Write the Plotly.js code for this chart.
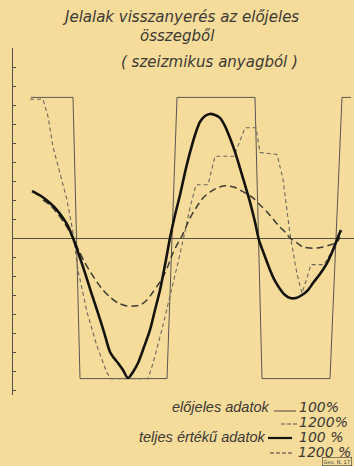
<!DOCTYPE html>
<html>
<head>
<meta charset="utf-8">
<script src="https://cdn.plot.ly/plotly-3.0.1.min.js"></script>
<style>
html,body{margin:0;padding:0;background:#f5dc9b;}
#chart{width:354px;height:466px;}
</style>
</head>
<body>
<div id="chart"></div>
<script>
// Square wave (előjeles adatok 100%)
const squareX = [18, 60, 67, 154, 164, 242, 249, 317, 329, 338];
const squareY = [7.4, 7.4, -7.4, -7.4, 7.4, 7.4, -7.4, -7.4, 7.4, 7.4];

// Stepped thin dashed (előjeles adatok 1200%)
const signX = [17, 30, 35, 40, 47, 54, 60, 65, 74, 84, 94, 98, 135, 140, 149, 157, 165, 171, 177, 183, 195, 202, 221, 232, 243, 247, 264, 270, 277, 284, 289, 294, 298, 311, 320, 327];
const signY = [7.3, 7.3, 6.4, 4.8, 3.4, 2.0, 0.3, -1.7, -3.9, -5.7, -7.1, -7.4, -7.4, -6.6, -4.8, -3.1, -1.3, 0.1, 1.6, 2.8, 2.8, 4.3, 4.3, 5.8, 5.8, 4.5, 4.4, 3.1, 0.2, -1.9, -2.9, -2.1, -1.4, -1.4, -0.6, 0.2];

// Thick solid (teljes értékű adatok 100%)
const fullX = [19, 28, 37, 44, 50, 55, 60, 66, 72, 78, 84, 91, 97, 101, 105, 110, 115, 120, 125, 131, 137, 142, 147, 152, 157, 162, 167, 173, 179, 183, 187, 192, 197, 202, 207, 212, 217, 222, 227, 232, 237, 242, 246, 251, 257, 262, 267, 272, 277, 283, 289, 295, 300, 307, 314, 320, 325, 328];
const fullY = [2.47, 2.21, 1.84, 1.47, 1.05, 0.63, 0, -0.89, -1.84, -2.84, -3.79, -4.95, -6.0, -6.32, -6.58, -6.95, -7.37, -7.05, -6.58, -5.74, -4.84, -3.79, -2.74, -1.42, 0, 1.21, 2.26, 3.68, 4.89, 5.58, 6.11, 6.42, 6.53, 6.47, 6.32, 5.89, 5.26, 4.53, 3.68, 2.79, 1.89, 0.84, -0.11, -0.84, -1.68, -2.26, -2.68, -3.0, -3.16, -3.16, -3.0, -2.74, -2.37, -1.89, -1.32, -0.63, 0.05, 0.42];

// Medium dashed (teljes értékű adatok 1200%)
const full12X = [30, 37, 44, 52, 60, 66, 72, 78, 84, 90, 97, 105, 114, 121, 127, 134, 140, 145, 150, 155, 160, 165, 169, 173, 177, 183, 190, 197, 204, 210, 215, 221, 227, 234, 240, 247, 254, 260, 266, 272, 277, 284, 290, 297, 304, 310, 317, 324, 327];
const full12Y = [2.0, 1.74, 1.32, 0.74, 0, -0.68, -1.32, -1.84, -2.32, -2.74, -3.11, -3.42, -3.58, -3.58, -3.53, -3.26, -2.84, -2.47, -2.05, -1.47, -0.79, -0.26, 0.11, 0.58, 1.05, 1.58, 2.11, 2.42, 2.63, 2.74, 2.74, 2.68, 2.53, 2.32, 2.11, 1.74, 1.37, 1.0, 0.63, 0.32, 0, -0.26, -0.47, -0.53, -0.53, -0.47, -0.37, -0.21, 0.05];

const titleLines = ["Jelalak visszanyerés az előjeles", "összegből", "( szeizmikus anyagból )"];
const legendLabels = ["előjeles adatok", "teljes értékű adatok"];
const legendPercents = ["100%", "1200%", "100 %", "1200 %"];

const paperBg = '#f5dc9b';
const ink = '#3c3833';
const fontFam = 'DejaVu Sans, sans-serif';
const narrowFam = 'Liberation Sans, Arial, sans-serif';

// plot area geometry in pixels (for paper coords of text/legend marks)
const L = 13, W = 341, T = 48, H = 347;
const px = x => (x - L) / W;
const py = y => (T + H - y) / H;

const traces = [
  {x: squareX, y: squareY, mode: 'lines', line: {color: '#5a5650', width: 1}, hoverinfo: 'skip'},
  {x: signX, y: signY, mode: 'lines', line: {color: '#6c665c', width: 1.1, dash: '4px,3px'}, hoverinfo: 'skip'},
  {x: full12X, y: full12Y, mode: 'lines', line: {color: '#3e3a34', width: 1.5, dash: '7px,4px', shape: 'spline', smoothing: 0.8}, hoverinfo: 'skip'},
  {x: fullX, y: fullY, mode: 'lines', line: {color: '#15130f', width: 2.6, shape: 'spline', smoothing: 0.8}, hoverinfo: 'skip'}
];

const textFont = (fam, size) => ({family: fam, size: size, color: ink, style: 'italic'});

const annotations = [
  {x: px(180), y: py(17), text: titleLines[0]},
  {x: px(177), y: py(36), text: titleLines[1]},
  {x: px(209), y: py(62), text: titleLines[2]},
].map(a => Object.assign(a, {xref: 'paper', yref: 'paper', showarrow: false, xanchor: 'center', yanchor: 'middle', font: textFont(fontFam, 15)}));

// legend texts
const legendItems = [
  {x: px(271), y: py(407), text: legendLabels[0], xanchor: 'right', font: textFont(narrowFam, 14.5)},
  {x: px(297), y: py(407), text: legendPercents[0], xanchor: 'left', font: textFont(fontFam, 14)},
  {x: px(297), y: py(422), text: legendPercents[1], xanchor: 'left', font: textFont(fontFam, 14)},
  {x: px(267), y: py(437), text: legendLabels[1], xanchor: 'right', font: textFont(narrowFam, 14.5)},
  {x: px(297), y: py(437), text: legendPercents[2], xanchor: 'left', font: textFont(fontFam, 14)},
  {x: px(296), y: py(452), text: legendPercents[3], xanchor: 'left', font: textFont(fontFam, 14)}
];
legendItems.forEach(a => annotations.push(Object.assign(a, {xref: 'paper', yref: 'paper', showarrow: false, yanchor: 'middle'})));

annotations.push({xref: 'paper', yref: 'paper', x: px(352), y: py(461), text: 'Geo. N. 17', showarrow: false,
  xanchor: 'right', yanchor: 'middle', font: {family: fontFam, size: 5, color: ink},
  bordercolor: ink, borderwidth: 0.6, borderpad: 1});

const shapes = [
  {type: 'line', xref: 'paper', yref: 'paper', x0: px(274), x1: px(296), y0: py(411), y1: py(411), line: {color: '#4a463f', width: 1}},
  {type: 'line', xref: 'paper', yref: 'paper', x0: px(281), x1: px(297), y0: py(424), y1: py(424), line: {color: '#5a564f', width: 1, dash: '4px,2px'}},
  {type: 'line', xref: 'paper', yref: 'paper', x0: px(268), x1: px(292), y0: py(438), y1: py(438), line: {color: '#15130f', width: 2.2}},
  {type: 'line', xref: 'paper', yref: 'paper', x0: px(270), x1: px(294), y0: py(453), y1: py(453), line: {color: '#3e3a34', width: 1.2, dash: '4px,2px'}}
];

const layout = {
  width: 354, height: 466,
  margin: {l: L, r: 354 - L - W, t: T, b: 466 - T - H, pad: 0},
  paper_bgcolor: paperBg, plot_bgcolor: paperBg,
  showlegend: false,
  xaxis: {range: [0, 341], showgrid: false, zeroline: false, showticklabels: false, ticks: '', showline: false, fixedrange: true},
  yaxis: {range: [-8.263, 10.0], showgrid: false, zeroline: true, zerolinecolor: '#55514a', zerolinewidth: 1,
          showline: true, linecolor: '#55514a', linewidth: 1, ticks: 'inside', ticklen: 3, tickwidth: 1, tickcolor: '#55514a',
          dtick: 1, tick0: 0, showticklabels: false, fixedrange: true},
  annotations: annotations,
  shapes: shapes
};

Plotly.newPlot('chart', traces, layout, {staticPlot: true, displayModeBar: false});
</script>
</body>
</html>
